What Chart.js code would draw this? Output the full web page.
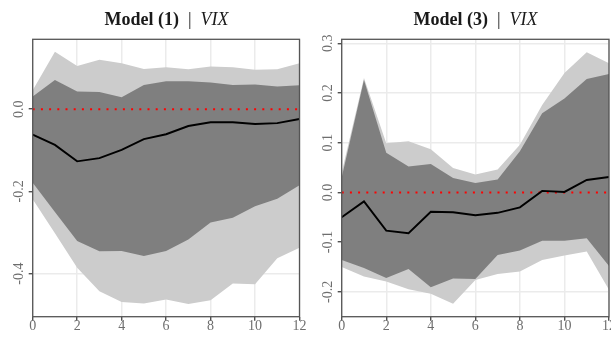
<!DOCTYPE html>
<html>
<head>
<meta charset="utf-8">
<script src="https://cdn.jsdelivr.net/npm/chart.js@4"></script>
<style>
  html, body { margin: 0; padding: 0; background: #fff; overflow: hidden; }
  #wrap { position: relative; width: 611px; height: 339px; overflow: hidden; }
  canvas { position: absolute; top: 0; }
  .ttl { position: absolute; top: 9px; text-align: center; font-family: "Liberation Serif", serif; font-size: 18px; color: #1a1a1a; white-space: nowrap; }
</style>
</head>
<body>
<div id="wrap">
  <canvas id="panel1" style="left:0px"></canvas>
  <canvas id="panel3" style="left:305px"></canvas>
  <div class="ttl" style="left:33px;width:267px"><b>Model (1)</b>&nbsp; |&nbsp; <i>VIX</i></div>
  <div class="ttl" style="left:342px;width:267px"><b>Model (3)</b>&nbsp; |&nbsp; <i>VIX</i></div>
</div>
<script>
const horizon = [0, 1, 2, 3, 4, 5, 6, 7, 8, 9, 10, 11, 12];
const xTicks = [0, 2, 4, 6, 8, 10, 12];

// Model (1)
const irf1 = [-0.062, -0.087, -0.127, -0.119, -0.099, -0.073, -0.061, -0.041, -0.032, -0.032, -0.036, -0.034, -0.024];
const innerHi1 = [0.031, 0.071, 0.043, 0.042, 0.029, 0.059, 0.068, 0.068, 0.065, 0.059, 0.060, 0.055, 0.058];
const innerLo1 = [-0.179, -0.250, -0.321, -0.346, -0.345, -0.357, -0.345, -0.317, -0.276, -0.264, -0.236, -0.218, -0.185];
const outerHi1 = [0.046, 0.140, 0.105, 0.120, 0.112, 0.098, 0.102, 0.097, 0.104, 0.102, 0.096, 0.097, 0.112];
const outerLo1 = [-0.219, -0.302, -0.386, -0.443, -0.469, -0.473, -0.463, -0.474, -0.465, -0.424, -0.426, -0.363, -0.337];
const yTicks1 = [-0.4, -0.2, 0.0];

// Model (3)
const irf3 = [-0.050, -0.018, -0.077, -0.082, -0.039, -0.040, -0.046, -0.041, -0.030, 0.003, 0.001, 0.025, 0.031];
const innerHi3 = [0.030, 0.226, 0.080, 0.052, 0.057, 0.029, 0.019, 0.026, 0.083, 0.159, 0.189, 0.228, 0.238];
const innerLo3 = [-0.136, -0.152, -0.172, -0.154, -0.191, -0.173, -0.174, -0.126, -0.117, -0.097, -0.097, -0.092, -0.148];
const outerHi3 = [0.040, 0.230, 0.099, 0.103, 0.087, 0.049, 0.036, 0.046, 0.096, 0.176, 0.240, 0.282, 0.260];
const outerLo3 = [-0.150, -0.169, -0.179, -0.195, -0.204, -0.224, -0.176, -0.164, -0.159, -0.136, -0.127, -0.119, -0.196];
const yTicks3 = [-0.2, -0.1, 0.0, 0.1, 0.2, 0.3];

const FONT = "'Liberation Serif', serif";

// panel border drawn round the plot area, like theme_bw
const panelBorder = {
  id: 'panelBorder',
  afterDraw(chart) {
    const a = chart.chartArea, ctx = chart.ctx;
    ctx.save();
    ctx.strokeStyle = '#555';
    ctx.lineWidth = 1.3;
    ctx.strokeRect(a.left, a.top, a.right - a.left, a.bottom - a.top);
    ctx.restore();
  }
};

function pts(ys) {
  return horizon.map((h, i) => ({ x: h, y: ys[i] }));
}

function band(ys, color, fill) {
  return {
    data: pts(ys), borderWidth: 0, borderColor: 'transparent',
    backgroundColor: color, pointRadius: 0, fill: fill, tension: 0
  };
}

function makePanel(id, w, padRight, yWidth, irf, iHi, iLo, oHi, oLo, yMin, yMax, yTicks) {
  const cv = document.getElementById(id);
  cv.width = w; cv.height = 339;
  cv.style.width = w + 'px'; cv.style.height = '339px';
  new Chart(cv, {
    type: 'line',
    data: {
      datasets: [
        { data: pts(irf), borderColor: '#000', borderWidth: 1.9, pointRadius: 0, fill: false, tension: 0 },
        { data: pts(horizon.map(() => 0)), borderColor: '#ff0000', borderWidth: 2, borderDash: [2, 6.2], pointRadius: 0, fill: false },
        band(iHi, '#7f7f7f', '+1'),
        band(iLo, '#7f7f7f', false),
        band(oHi, '#cccccc', '+1'),
        band(oLo, '#cccccc', false)
      ]
    },
    options: {
      responsive: false,
      animation: false,
      layout: { padding: { top: 39.3, left: 0, right: padRight, bottom: 0 } },
      plugins: { legend: { display: false }, tooltip: { enabled: false } },
      scales: {
        x: {
          type: 'linear', min: 0, max: 12,
          afterBuildTicks: s => { s.ticks = xTicks.map(v => ({ value: v })); },
          afterFit: s => { s.height = 22.3; },
          grid: { color: '#ebebeb', lineWidth: 1.5, tickColor: '#333', tickLength: 4, tickWidth: 1.2 },
          border: { display: false },
          ticks: { color: '#6e6e6e', padding: -3, font: { family: FONT, size: 14 } }
        },
        y: {
          min: yMin, max: yMax,
          afterBuildTicks: s => { s.ticks = yTicks.map(v => ({ value: v })); },
          afterFit: s => { s.width = yWidth; },
          grid: { color: '#ebebeb', lineWidth: 1.5, tickColor: '#333', tickLength: 4, tickWidth: 1.2 },
          border: { display: false },
          ticks: {
            color: '#6e6e6e', padding: -2, minRotation: 90, maxRotation: 90, crossAlign: 'center',
            font: { family: FONT, size: 14 }, callback: v => v.toFixed(1)
          }
        }
      }
    },
    plugins: [panelBorder]
  });
}

makePanel('panel1', 312, 12.5, 32.7, irf1, innerHi1, innerLo1, outerHi1, outerLo1, -0.505, 0.17, yTicks1);
makePanel('panel3', 320, 16, 36.7, irf3, innerHi3, innerLo3, outerHi3, outerLo3, -0.25, 0.308, yTicks3);
</script>
</body>
</html>
